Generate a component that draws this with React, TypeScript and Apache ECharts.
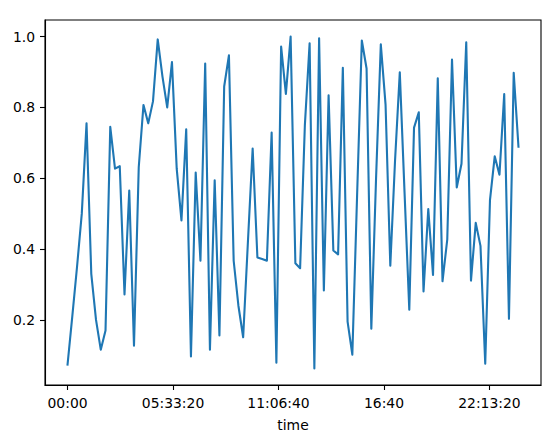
import React, { useEffect, useRef } from "react";
import * as echarts from "echarts";

// Sample values, one every 15 minutes starting at 00:00
const values: number[] = [
  0.074, 0.21, 0.35, 0.5, 0.755, 0.33, 0.2, 0.116, 0.17, 0.745,
  0.627, 0.634, 0.272, 0.565, 0.127, 0.631, 0.807, 0.755, 0.817, 0.992,
  0.887, 0.8, 0.928, 0.627, 0.481, 0.738, 0.097, 0.616, 0.367, 0.924,
  0.116, 0.594, 0.156, 0.859, 0.947, 0.367, 0.24, 0.151, 0.42, 0.684,
  0.376, 0.372, 0.367, 0.729, 0.079, 0.972, 0.838, 1.0, 0.36, 0.346,
  0.75, 0.981, 0.063, 0.995, 0.283, 0.834, 0.396, 0.385, 0.912, 0.195,
  0.102, 0.55, 0.989, 0.91, 0.175, 0.6, 0.978, 0.808, 0.353, 0.65,
  0.899, 0.56, 0.229, 0.743, 0.786, 0.28, 0.513, 0.327, 0.882, 0.309,
  0.427, 0.935, 0.574, 0.641, 0.984, 0.311, 0.474, 0.409, 0.076, 0.538,
  0.662, 0.61, 0.838, 0.203, 0.898, 0.689,
];
const STEP_SECONDS = 900;
const times: number[] = values.map((_, i) => i * STEP_SECONDS);

const xTicks: number[] = [0, 20000, 40000, 60000, 80000];
const yTicks: number[] = [0.2, 0.4, 0.6, 0.8, 1.0];
const X_NAME = "time";

function fmtTime(s: number): string {
  const h = Math.floor(s / 3600);
  const m = Math.floor((s % 3600) / 60);
  const sec = Math.round(s % 60);
  const p = (n: number) => String(n).padStart(2, "0");
  return sec === 0 ? `${p(h)}:${p(m)}` : `${p(h)}:${p(m)}:${p(sec)}`;
}

export default function App() {
  const ref = useRef<HTMLDivElement>(null);
  useEffect(() => {
    document.body.style.margin = "0";
    if (!ref.current) return;
    const chart = echarts.init(ref.current, undefined, { renderer: "svg" });
    const span = times[times.length - 1] - times[0];
    const vMin = Math.min(...values);
    const vMax = Math.max(...values);
    const vSpan = vMax - vMin;
    const font = "DejaVu Sans";
    chart.setOption({
      animation: false,
      backgroundColor: "#ffffff",
      grid: {
        left: 45,
        right: 7,
        top: 20,
        bottom: 48,
        show: true,
        borderColor: "#000",
        borderWidth: 1.1,
        backgroundColor: "transparent",
      },
      xAxis: {
        type: "value",
        min: times[0] - span * 0.05,
        max: times[times.length - 1] + span * 0.05,
        name: X_NAME,
        nameLocation: "middle",
        nameGap: 33,
        nameTextStyle: { fontFamily: font, fontSize: 13.9, color: "#000" },
        splitLine: { show: false },
        axisLine: { show: true, onZero: false, lineStyle: { color: "#000", width: 1.1 } },
        axisTick: {
          show: true,
          length: 5,
          lineStyle: { color: "#000", width: 1.1 },
          customValues: xTicks,
        },
        axisLabel: {
          fontFamily: font,
          fontSize: 13.9,
          color: "#000",
          margin: 11,
          customValues: xTicks,
          formatter: (v: number) => fmtTime(v),
        },
      },
      yAxis: {
        type: "value",
        min: vMin - vSpan * 0.05,
        max: vMax + vSpan * 0.05,
        splitLine: { show: false },
        axisLine: { show: true, onZero: false, lineStyle: { color: "#000", width: 1.1 } },
        axisTick: {
          show: true,
          length: 5,
          lineStyle: { color: "#000", width: 1.1 },
          customValues: yTicks,
        },
        axisLabel: {
          fontFamily: font,
          fontSize: 13.9,
          color: "#000",
          margin: 10,
          customValues: yTicks,
          formatter: (v: number) => v.toFixed(1),
        },
      },
      series: [
        {
          type: "line",
          data: times.map((t, i) => [t, values[i]]),
          showSymbol: false,
          symbol: "none",
          lineStyle: { color: "#1f77b4", width: 2.1, join: "round", cap: "square" },
        },
      ],
    });
    return () => chart.dispose();
  }, []);
  return <div ref={ref} style={{ width: 548, height: 437 }} />;
}
